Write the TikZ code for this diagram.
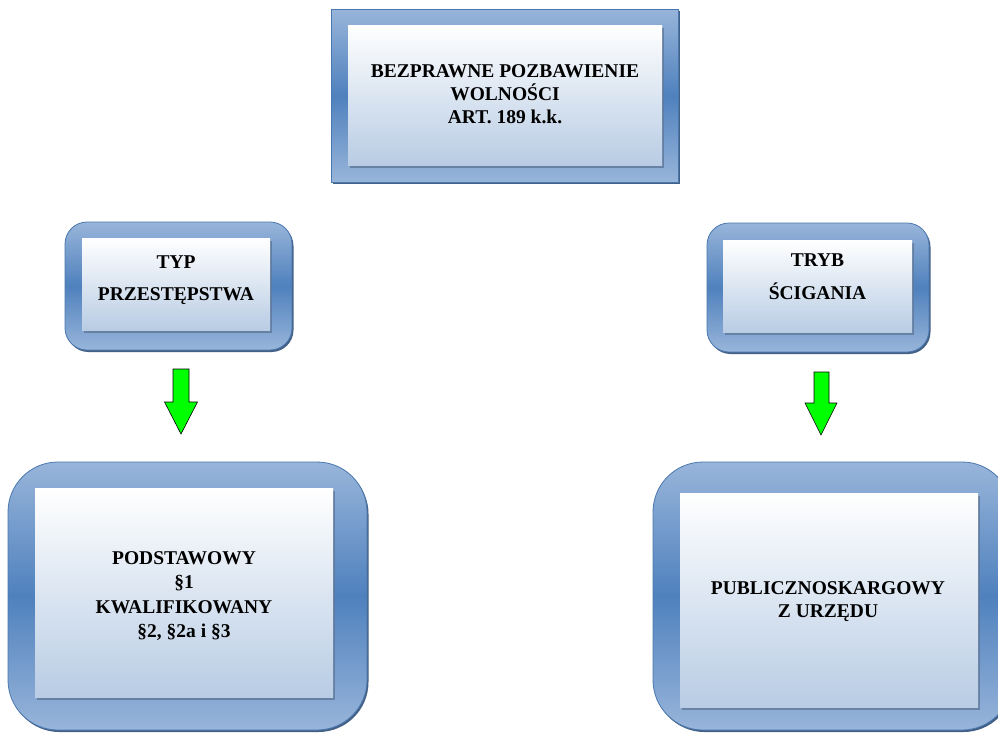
\documentclass[tikz,border=0pt]{standalone}
\usepackage{fontspec}
\setmainfont{Liberation Serif}
\usetikzlibrary{shadows}
\definecolor{frameA}{HTML}{98B5DA}
\definecolor{frameB}{HTML}{4F81BD}
\definecolor{frameline}{HTML}{4A77AE}
\definecolor{frameshadow}{HTML}{2F4F78}
\definecolor{paneltop}{HTML}{FFFFFF}
\definecolor{panelbot}{HTML}{B8CCE4}
\definecolor{panelshadow}{HTML}{5F7799}
\definecolor{arrowgreen}{HTML}{00FF00}
\begin{document}
\begin{tikzpicture}[x=1pt,y=-1pt,
  frame/.style={draw=frameline, line width=0.8pt, top color=frameA, bottom color=frameA, middle color=frameB,
    drop shadow={shadow xshift=1.5pt, shadow yshift=-2pt, fill=frameshadow, opacity=0.9}},
  panel/.style={top color=paneltop, bottom color=panelbot, draw=none,
    drop shadow={shadow xshift=2pt, shadow yshift=-2.5pt, fill=panelshadow, opacity=0.8}},
  label/.style={align=center, inner sep=0pt, font=\bfseries\fontsize{19.5}{23}\selectfont},
  greenarrow/.style={fill=arrowgreen, draw=black, line width=0.6pt, line join=miter}
]
\useasboundingbox (0,0) rectangle (998,732);
% top box
\node[frame, minimum width=347pt, minimum height=173pt] (topF) at (504.5,95.5) {};
\node[panel, minimum width=314pt, minimum height=140pt] (topP) at (505,95) {};
\node[label] (topT) at (505,94) {BEZPRAWNE POZBAWIENIE\\WOLNOŚCI\\ART. 189 k.k.};
% small left
\node[frame, rounded corners=22pt, minimum width=227pt, minimum height=128pt] (typF) at (178.5,286) {};
\node[panel, minimum width=188pt, minimum height=92pt] (typP) at (176,284) {};
\node[label] (typT) at (176,280) {TYP\\[9pt]PRZESTĘPSTWA};
% small right
\node[frame, rounded corners=22pt, minimum width=222pt, minimum height=129pt] (trybF) at (818,287.5) {};
\node[panel, minimum width=189pt, minimum height=92pt] (trybP) at (817.5,286) {};
\node[label] (trybT) at (817.5,277) {TRYB\\[10pt]ŚCIGANIA};
% big left
\node[frame, rounded corners=50pt, minimum width=359pt, minimum height=268pt] (podF) at (187.5,596) {};
\node[panel, minimum width=298pt, minimum height=209pt] (podP) at (184,592.5) {};
\node[label, font=\bfseries\fontsize{19.5}{24.5}\selectfont] (podT) at (184,596) {PODSTAWOWY\\§1\\KWALIFIKOWANY\\§2, §2a i §3};
% big right
\node[frame, rounded corners=50pt, minimum width=359pt, minimum height=268pt] (pubF) at (832.5,596) {};
\node[panel, minimum width=298pt, minimum height=214pt] (pubP) at (829,600) {};
\node[label] (pubT) at (828,602) {PUBLICZNOSKARGOWY\\Z URZĘDU};
% green block arrows
\draw[greenarrow] (173,369) -- (189,369) -- (189,402) -- (197.5,402) -- (181,434) -- (164.5,402) -- (173,402) -- cycle;
\draw[greenarrow] (814,372) -- (829,372) -- (829,403) -- (837,403) -- (821,435) -- (805,403) -- (814,403) -- cycle;
\end{tikzpicture}
\end{document}
